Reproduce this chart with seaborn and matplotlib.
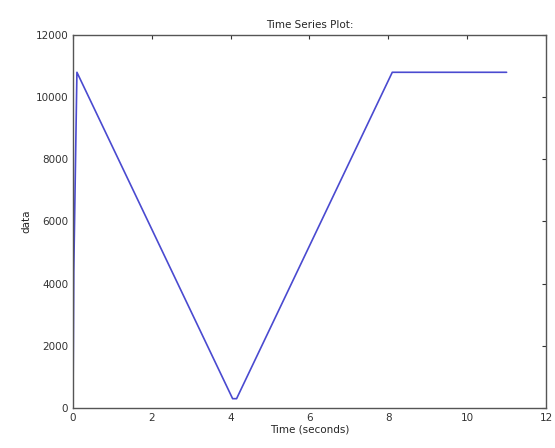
import matplotlib
matplotlib.use("Agg")
import matplotlib.pyplot as plt
import seaborn as sns
import pandas as pd

# values
time_s = [0.0, 0.02, 0.1, 4.05, 4.15, 8.1, 11.0]
data_vals = [0, 4400, 10800, 300, 300, 10800, 10800]

df = pd.DataFrame({"Time": time_s, "data": data_vals})

sns.set_style("white")
plt.rcParams["font.family"] = ["DejaVu Sans"]

fig = plt.figure(figsize=(5.55, 4.48), dpi=100)
ax = fig.add_axes([0.1315, 0.0893, 0.8523, 0.8326])

sns.lineplot(data=df, x="Time", y="data", ax=ax, color="#4a4ad0", linewidth=1.2)

ax.set_xlim(0, 12)
ax.set_ylim(0, 12000)
ax.set_xticks(range(0, 13, 2))
ax.set_yticks(range(0, 12001, 2000))
ax.tick_params(direction="in", length=3, labelsize=7.5, colors="#333333",
               top=True, right=True, width=0.8)
for s in ax.spines.values():
    s.set_color("#555555")
    s.set_linewidth(1.0)

ax.set_title("Time Series Plot:", fontsize=7.5, pad=5)
ax.set_xlabel("Time (seconds)", fontsize=7.5, labelpad=1)
ax.set_ylabel("data", fontsize=7.5, labelpad=3)

fig.savefig("out.png", dpi=100)
